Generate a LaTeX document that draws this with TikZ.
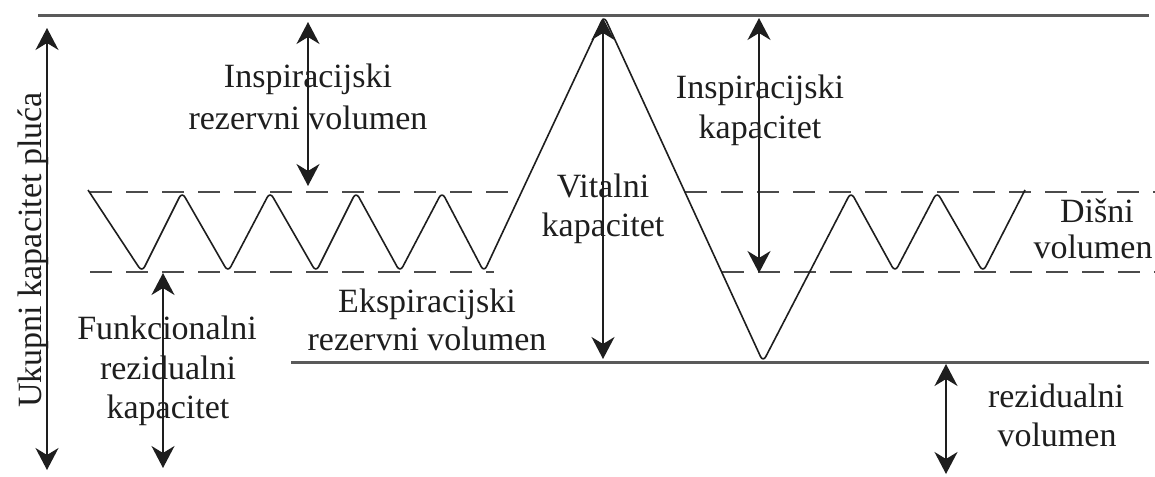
\documentclass[tikz,border=0pt]{standalone}
\usepackage{fontspec}
\setmainfont{Liberation Serif}
\usetikzlibrary{arrows.meta}
\definecolor{ink}{HTML}{1E1E1E}
\definecolor{rulec}{HTML}{5A5A5A}
\begin{document}
\begin{tikzpicture}[x=1pt,y=-1pt,
  lbl/.style={font=\fontsize{34}{39}\selectfont, text=ink, inner sep=0pt, anchor=base},
  dim/.style={draw=ink, line width=1.8pt, {Stealth[length=22pt,width=23pt,inset=7pt]}-{Stealth[length=22pt,width=23pt,inset=7pt]}},
  level/.style={draw=rulec, line width=3pt},
  dashline/.style={draw=ink!80, line width=2pt, dash pattern=on 22pt off 14pt},
  wave/.style={draw=ink, line width=1.6pt, rounded corners=6pt}]
\useasboundingbox (0,0) rectangle (1155,476);

% levels
\draw[level] (38,16) -- (1149,16);
\draw[level] (291,362) -- (1149,362);
\draw[dashline] (90,192) -- (522,192);
\draw[dashline] (685,192) -- (1155,192);
\draw[dashline] (90,272) -- (494,272);
\draw[dashline] (722,272) -- (1155,272);

% breathing curve
\draw[wave] (88,190) -- (142,272) -- (182,192) -- (228,272) -- (270,192) -- (316,272)
  -- (356,192) -- (400,272) -- (442,192) -- (484,272) -- (604,16) -- (763,362)
  -- (851,192) -- (895,272) -- (937,192) -- (983,272) -- (1025,190);

% arrow end points
\coordinate (tlcT) at (47,28);   \coordinate (tlcB) at (47,470);
\coordinate (irvT) at (308,22);  \coordinate (irvB) at (308,186);
\coordinate (frcT) at (163,273); \coordinate (frcB) at (163,468);
\coordinate (vcT)  at (603,18);  \coordinate (vcB)  at (603,359);
\coordinate (icT)  at (759,18);  \coordinate (icB)  at (759,273);
\coordinate (rvT)  at (946,364); \coordinate (rvB)  at (946,474);

\draw[dim] (tlcT) -- (tlcB);
\draw[dim] (irvT) -- (irvB);
\draw[dim] (frcT) -- (frcB);
\draw[dim] (vcT) -- (vcB);
\draw[dim] (icT) -- (icB);
\draw[dim] (rvT) -- (rvB);

% labels
\node[lbl, rotate=90] (tlc) at (41,250) {Ukupni kapacitet pluća};
\node[lbl] (irv1) at (308,88) {Inspiracijski};
\node[lbl] (irv2) at (308,129) {rezervni volumen};
\node[lbl] (ic1) at (760,99) {Inspiracijski};
\node[lbl] (ic2) at (760,138) {kapacitet};
\node[lbl] (vc1) at (603,197) {Vitalni};
\node[lbl] (vc2) at (603,236) {kapacitet};
\node[lbl] (tv1) at (1097,222) {Dišni};
\node[lbl] (tv2) at (1093,258) {volumen};
\node[lbl] (erv1) at (427,312) {Ekspiracijski};
\node[lbl] (erv2) at (427,350) {rezervni volumen};
\node[lbl] (frc1) at (167,339) {Funkcionalni};
\node[lbl] (frc2) at (168,379) {rezidualni};
\node[lbl] (frc3) at (168,418) {kapacitet};
\node[lbl] (rv1) at (1056,407) {rezidualni};
\node[lbl] (rv2) at (1057,446) {volumen};
\end{tikzpicture}
\end{document}
